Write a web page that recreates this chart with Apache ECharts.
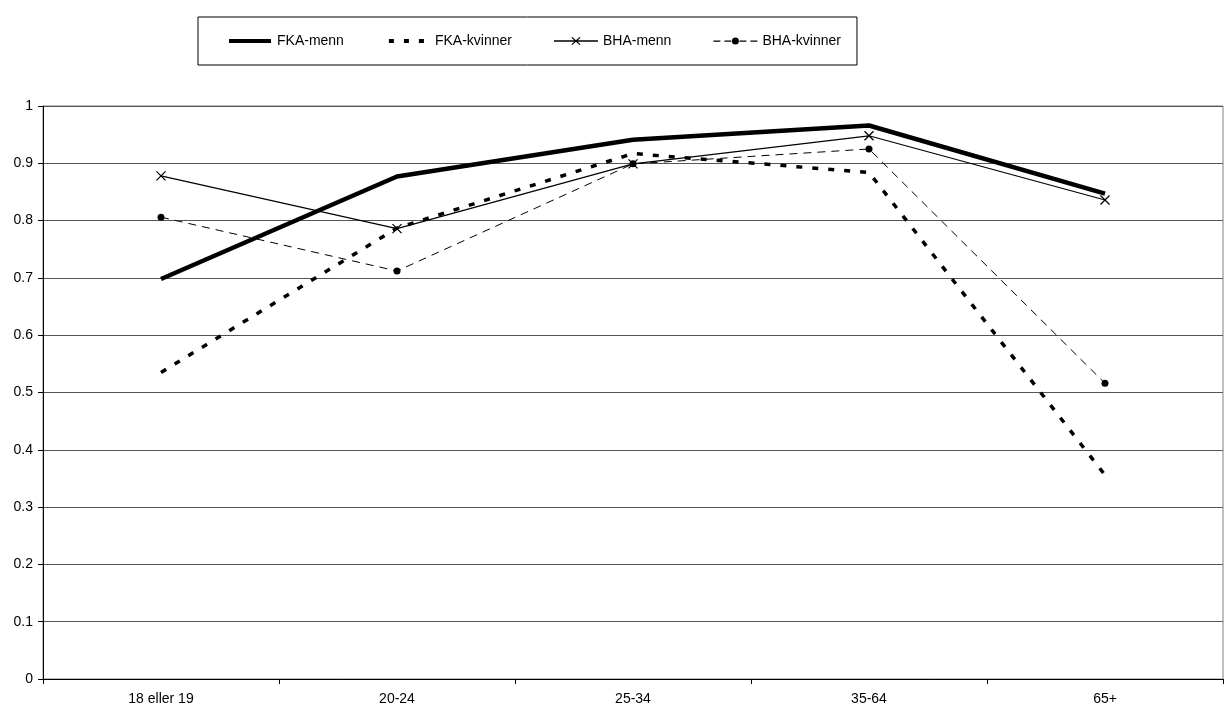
<!DOCTYPE html>
<html>
<head>
<meta charset="utf-8">
<script src="https://cdn.jsdelivr.net/npm/echarts@6/dist/echarts.min.js"></script>
<style>
html,body{margin:0;padding:0;background:#fff;}
#c{width:1224px;height:709px;}
</style>
</head>
<body>
<div id="c"></div>
<script>
const categories = ['18 eller 19', '20-24', '25-34', '35-64', '65+'];
const fkaMenn = [0.698, 0.877, 0.941, 0.966, 0.847];
const fkaKvinner = [0.535, 0.787, 0.917, 0.884, 0.356];
const bhaMenn = [0.878, 0.786, 0.899, 0.948, 0.836];
const bhaKvinner = [0.806, 0.712, 0.899, 0.925, 0.516];
const yTicks = [0, 0.1, 0.2, 0.3, 0.4, 0.5, 0.6, 0.7, 0.8, 0.9, 1];
const seriesNames = ['FKA-menn', 'FKA-kvinner', 'BHA-menn', 'BHA-kvinner'];

// legend sample glyphs (44x10 box)
const box = 'M0,0L0,0M44,10L44,10';
const legendIcons = [
  'path://' + box + 'M1,3L43,3L43,7L1,7Z',
  'path://' + box + 'M3,3h5v4h-5zM18,3h5v4h-5zM33,3h5v4h-5z',
  'path://' + box + 'M0,4.3h44v1.5h-44zM17.5,1.8L18.4,1L26.5,8.2L25.6,9ZM25.6,1L26.5,1.8L18.4,9L17.5,8.2Z',
  'path://' + box + 'M0,4.4h7v1.3h-7zM11,4.4h7v1.3h-7zM18.5,5a3.5,3.5 0 1,0 7,0a3.5,3.5 0 1,0 -7,0zM26,4.4h7v1.3h-7zM37,4.4h7v1.3h-7z'
];

const chart = echarts.init(document.getElementById('c'), null, {renderer: 'canvas'});
const font = 'Liberation Sans, Arial, sans-serif';
chart.setOption({
  backgroundColor: '#fff',
  animation: false,
  textStyle: {fontFamily: font},
  legend: {
    left: 198, top: 17,
    padding: [17, 16, 17, 30],
    itemGap: 42,
    itemWidth: 44, itemHeight: 10,
    borderColor: '#000', borderWidth: 1,
    textStyle: {fontSize: 14, color: '#000', fontFamily: font},
    data: seriesNames.map((n, i) => ({name: n, icon: legendIcons[i], itemStyle: {color: '#000', borderWidth: 0}}))
  },
  grid: {left: 43, right: 1, top: 106, bottom: 30, show: true, borderColor: '#808080', borderWidth: 1},
  xAxis: {
    type: 'category', data: categories, boundaryGap: true,
    axisLine: {lineStyle: {color: '#000', width: 1}},
    axisTick: {show: true, length: 5, alignWithLabel: false, lineStyle: {color: '#000'}},
    axisLabel: {color: '#000', fontSize: 14, margin: 13, fontFamily: font}
  },
  yAxis: {
    type: 'value', min: 0, max: 1, interval: 0.1,
    axisLine: {show: true, lineStyle: {color: '#000', width: 1}},
    axisTick: {show: true, length: 5, lineStyle: {color: '#000'}},
    axisLabel: {color: '#000', fontSize: 14, margin: 10, fontFamily: font,
      formatter: v => { const t = yTicks.find(x => Math.abs(x - v) < 1e-9); return String(t !== undefined ? t : v); }},
    splitLine: {show: true, lineStyle: {color: '#555', width: 1}}
  },
  series: [
    {name: seriesNames[0], type: 'line', data: fkaMenn, symbol: 'none',
      lineStyle: {color: '#000', width: 4.5}, itemStyle: {color: '#000'}},
    {name: seriesNames[1], type: 'line', data: fkaKvinner, symbol: 'none',
      lineStyle: {color: '#000', width: 3.5, type: [6, 10]}, itemStyle: {color: '#000'}},
    {name: seriesNames[2], type: 'line', data: bhaMenn,
      symbol: 'path://M0,0L10,10M10,0L0,10', symbolSize: 9,
      lineStyle: {color: '#000', width: 1.2},
      itemStyle: {color: '#000', borderColor: '#000', borderWidth: 1.3}},
    {name: seriesNames[3], type: 'line', data: bhaKvinner,
      symbol: 'circle', symbolSize: 7,
      lineStyle: {color: '#000', width: 1, type: [8, 6]},
      itemStyle: {color: '#000', borderColor: '#000', borderWidth: 0}}
  ]
});
</script>
</body>
</html>
